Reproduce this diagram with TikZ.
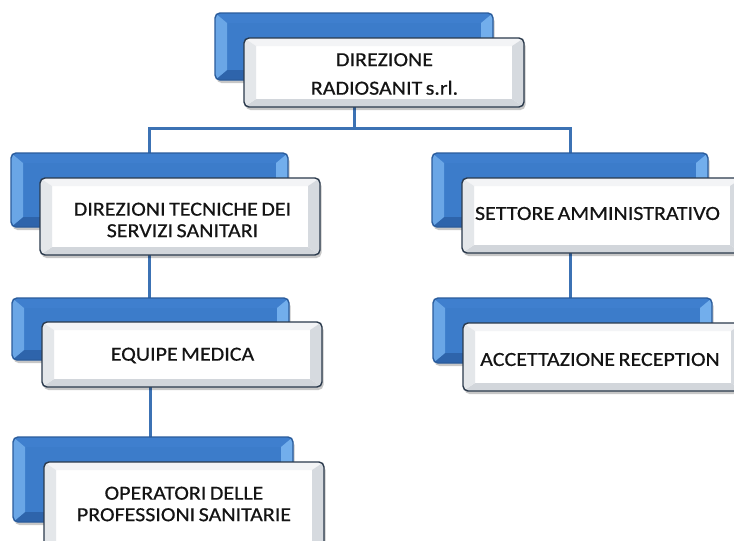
\documentclass[tikz,border=0pt]{standalone}
\usepackage{fontspec}
\setmainfont{Carlito}[FakeStretch=1.1,FakeBold=0.5,WordSpace=0.7]
\usetikzlibrary{calc}
\pgfdeclarelayer{background}
\pgfsetlayers{background,main}
\definecolor{lineblue}{HTML}{3C72B4}
\definecolor{bmid}{HTML}{3C7CCA}
\definecolor{btop}{HTML}{3F7FCE}
\definecolor{bleft}{HTML}{6AA6E6}
\definecolor{bright}{HTML}{72AEEC}
\definecolor{bbot}{HTML}{2E64AB}
\definecolor{bborder}{HTML}{2A5C9C}
\definecolor{wmid}{HTML}{FFFFFF}
\definecolor{wtop}{HTML}{F3F4F6}
\definecolor{wleft}{HTML}{E4E7EA}
\definecolor{wright}{HTML}{D6DADF}
\definecolor{wbot}{HTML}{D2D6DB}
\definecolor{wborder}{HTML}{2B3A4C}
\definecolor{txt}{HTML}{141414}
\tikzset{
  x=1pt, y=-1pt,
  conn/.style={draw=lineblue, line width=3pt},
  lbl/.style={align=center, inner sep=0pt, text=txt, font=\fontsize{20}{21.5}\selectfont},
  boxnode/.style={inner sep=0pt, outer sep=0pt, rectangle},
}
% #1 name, #2 x1, #3 y1, #4 x2, #5 y2, #6 prefix (b/w), #7 dx, #8 dy
\newcommand\bevbox[8]{%
  \pgfmathsetmacro\bxw{#4-#2}\pgfmathsetmacro\bxh{#5-#3}%
  \node[boxnode, minimum width=\bxw pt, minimum height=\bxh pt] (#1) at ({(#2+#4)/2},{(#3+#5)/2}) {};
  \fill[black, opacity=0.22, rounded corners=5pt] ($(#1.north west)+(1.5pt,-3pt)$) rectangle ($(#1.south east)+(1.5pt,-3pt)$);
  \begin{scope}
    \clip[rounded corners=5pt] (#1.north west) rectangle (#1.south east);
    \fill[#6mid] (#1.north west) rectangle (#1.south east);
    \fill[#6top] (#1.north west) -- (#1.north east) -- ($(#1.north east)+(-#7pt,-#8pt)$) -- ($(#1.north west)+(#7pt,-#8pt)$) -- cycle;
    \fill[#6bot] (#1.south west) -- (#1.south east) -- ($(#1.south east)+(-#7pt,#8pt)$) -- ($(#1.south west)+(#7pt,#8pt)$) -- cycle;
    \fill[#6left] (#1.north west) -- ($(#1.north west)+(#7pt,-#8pt)$) -- ($(#1.south west)+(#7pt,#8pt)$) -- (#1.south west) -- cycle;
    \fill[#6right] (#1.north east) -- ($(#1.north east)+(-#7pt,-#8pt)$) -- ($(#1.south east)+(-#7pt,#8pt)$) -- (#1.south east) -- cycle;
  \end{scope}
  \draw[#6border, line width=1.4pt, rounded corners=5pt] (#1.north west) rectangle (#1.south east);
}
\begin{document}
\begin{tikzpicture}
\useasboundingbox (0,0) rectangle (734,541);
\clip (0,0) rectangle (734,541);
\begin{pgfonlayer}{background}
  \fill[white] (0,0) rectangle (734,541);
\end{pgfonlayer}
\coordinate (hbar) at (0,128);

\bevbox{b0}{215}{13}{493}{80}{b}{12}{10}
\bevbox{w0}{244}{38}{524}{107}{w}{12}{8}
\bevbox{b1}{11}{153}{288}{227}{b}{12}{10}
\bevbox{w1}{40}{178}{320}{255}{w}{12}{8}
\bevbox{b2}{432}{153}{708}{227}{b}{12}{10}
\bevbox{w2}{462}{178}{742}{253}{w}{12}{8}
\bevbox{b3}{12}{298}{289}{360}{b}{12}{10}
\bevbox{w3}{42}{322}{322}{387}{w}{12}{8}
\bevbox{b4}{433}{298}{712}{363}{b}{12}{10}
\bevbox{w4}{463}{323}{743}{391}{w}{12}{8}
\bevbox{b5}{13}{437}{293}{522}{b}{12}{10}
\bevbox{w5}{44}{462}{324}{549}{w}{12}{8}

\node[lbl] (t0) at (384.5,74) {DIREZIONE\\[7pt]RADIOSANIT s.rl.};
\node[lbl] (t1) at (182.5,220) {DIREZIONI TECNICHE DEI\\SERVIZI SANITARI};
\node[lbl] (t2) at (597.5,213.5) {SETTORE AMMINISTRATIVO};
\node[lbl] (t3) at (182.5,355.5) {EQUIPE MEDICA};
\node[lbl] (t4) at (600,359.5) {ACCETTAZIONE RECEPTION};
\node[lbl] (t5) at (184,504) {OPERATORI DELLE\\PROFESSIONI SANITARIE};

\begin{pgfonlayer}{background}
  \draw[conn] (b0.center) -- (b0.center |- hbar) -| (b1.center);
  \draw[conn] (b0.center |- hbar) -| (b2.center);
  \draw[conn] (b1.center) -- (b1.center |- b3.north);
  \draw[conn] (b3.center) -- (b3.center |- b5.north);
  \draw[conn] (b2.center) -- (b2.center |- b4.north);
\end{pgfonlayer}
\end{tikzpicture}
\end{document}
